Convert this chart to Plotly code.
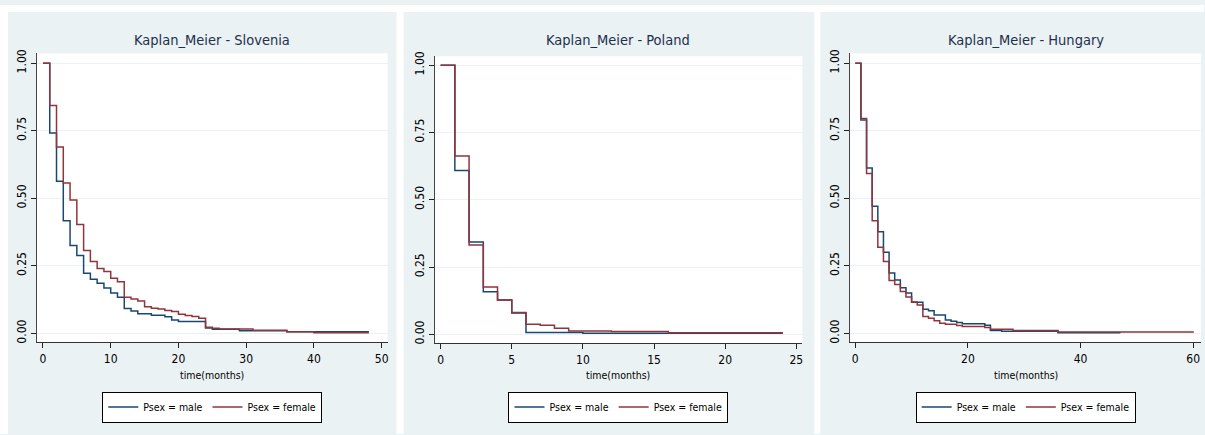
import plotly.graph_objects as go

# ---------------- data ----------------
countries = ["Slovenia", "Poland", "Hungary"]

slo_male_t = [0, 1, 2, 3, 4, 5, 6, 7, 8, 9, 10, 11, 12, 13, 14, 16, 18, 19, 20, 24, 25, 29, 36, 48]
slo_male_s = [1.0, 0.742, 0.563, 0.417, 0.325, 0.288, 0.223, 0.200, 0.186, 0.168, 0.150, 0.134,
              0.092, 0.083, 0.073, 0.067, 0.062, 0.050, 0.044, 0.020, 0.015, 0.010, 0.006, 0.004]
slo_female_t = [0, 1, 2, 3, 4, 5, 6, 7, 8, 9, 10, 11, 12, 13, 14, 15, 16, 17, 18, 19, 20, 21, 22,
                23, 24, 25, 26, 31, 36, 40, 48]
slo_female_s = [1.0, 0.843, 0.690, 0.557, 0.494, 0.403, 0.307, 0.266, 0.240, 0.229, 0.204, 0.191,
                0.134, 0.127, 0.120, 0.099, 0.093, 0.090, 0.085, 0.081, 0.071, 0.066, 0.063,
                0.056, 0.023, 0.019, 0.016, 0.012, 0.006, 0.002, 0.0]

pol_male_t = [0, 1, 2, 3, 4, 5, 6, 10, 24]
pol_male_s = [1.0, 0.609, 0.343, 0.158, 0.128, 0.079, 0.007, 0.004, 0.002]
pol_female_t = [0, 1, 2, 3, 4, 5, 6, 7, 8, 9, 12, 16, 24]
pol_female_s = [1.0, 0.663, 0.332, 0.176, 0.128, 0.081, 0.038, 0.034, 0.023, 0.013, 0.011, 0.006, 0.002]

hun_male_t = [0, 1, 2, 3, 4, 5, 6, 7, 8, 9, 10, 12, 13, 14, 16, 17, 18, 19, 23, 24, 26, 36, 47]
hun_male_s = [1.0, 0.790, 0.612, 0.471, 0.376, 0.300, 0.224, 0.198, 0.169, 0.150, 0.115, 0.089,
              0.084, 0.068, 0.050, 0.045, 0.040, 0.036, 0.030, 0.011, 0.008, 0.002, 0.001]
hun_female_t = [0, 1, 2, 3, 4, 5, 6, 7, 8, 9, 10, 11, 12, 13, 14, 15, 16, 18, 19, 23, 24, 28, 36, 60]
hun_female_s = [1.0, 0.795, 0.592, 0.417, 0.319, 0.266, 0.196, 0.181, 0.155, 0.135, 0.116, 0.105,
                0.063, 0.056, 0.047, 0.038, 0.034, 0.029, 0.026, 0.022, 0.015, 0.011, 0.005, 0.002]

x_ticks = [[0, 10, 20, 30, 40, 50], [0, 5, 10, 15, 20, 25], [0, 20, 40, 60]]
y_ticks = [0, 0.25, 0.5, 0.75, 1.0]
legend_labels = ["Psex = male", "Psex = female"]

series = [
    ((slo_male_t, slo_male_s), (slo_female_t, slo_female_s)),
    ((pol_male_t, pol_male_s), (pol_female_t, pol_female_s)),
    ((hun_male_t, hun_male_s), (hun_female_t, hun_female_s)),
]

# ---------------- layout geometry ----------------
W, H = 1205, 435
FONT = "DejaVu Sans Condensed, Liberation Sans Narrow, sans-serif"
BG = "#eaf2f3"
MALE = "#1a476f"
FEMALE = "#90353b"

# plot areas in pixels: (left, right, top, bottom)
plot_px = [(37, 388, 49, 342), (435, 803, 52, 343), (851, 1202, 49, 342)]
# white gaps around / between the three panels (x0, x1, y0, y1)
gaps_px = [(0, 8, 0, 435), (397, 404, 0, 435), (815, 821, 0, 435), (0, 1205, 0, 7)]
x_ranges = [[-0.885, 50.885], [-0.42, 25.42], [-0.89, 61.4]]
y_ranges = [[-0.0328, 1.0365], [-0.033, 1.033], [-0.0328, 1.0365]]

fig = go.Figure()

def px2x(p):
    return p / W

def px2y(p):
    return 1 - p / H

shapes = []
for (gx0, gx1, gy0, gy1) in gaps_px:
    shapes.append(dict(type="rect", xref="paper", yref="paper", x0=px2x(gx0), x1=px2x(gx1),
                       y0=px2y(gy1), y1=px2y(gy0), fillcolor="white", line=dict(width=0),
                       layer="below"))
annotations = []
for i, (name, (male, female)) in enumerate(zip(countries, series)):
    ax = "" if i == 0 else str(i + 1)
    leg = "legend" if i == 0 else "legend%d" % (i + 1)
    fig.add_trace(go.Scatter(x=male[0], y=male[1], mode="lines", line_shape="hv",
                             line=dict(color=MALE, width=1.5), name=legend_labels[0],
                             xaxis="x" + ax, yaxis="y" + ax, legend=leg))
    fig.add_trace(go.Scatter(x=female[0], y=female[1], mode="lines", line_shape="hv",
                             line=dict(color=FEMALE, width=1.5), name=legend_labels[1],
                             xaxis="x" + ax, yaxis="y" + ax, legend=leg))
    l, r, t, b = plot_px[i]
    cx = (l + r) / 2
    annotations.append(dict(text="Kaplan_Meier - " + name, x=px2x(cx), y=px2y(35), xref="paper",
                            yref="paper", showarrow=False, xanchor="center", yanchor="middle",
                            font=dict(family=FONT, size=14.5, color="#1e2f4f")))
    annotations.append(dict(text="time(months)", x=px2x(cx), y=px2y(375), xref="paper",
                            yref="paper", showarrow=False, xanchor="center", yanchor="middle",
                            font=dict(family=FONT, size=10.5, color="black")))
    xa = dict(domain=[px2x(l), px2x(r)], range=x_ranges[i], anchor="y" + ax,
              tickvals=x_ticks[i], ticks="outside", ticklen=5, tickcolor="#222",
              showline=True, linecolor="#333", linewidth=1.2, showgrid=False, zeroline=False,
              tickfont=dict(family=FONT, size=12, color="black"), fixedrange=True)
    ya = dict(domain=[px2y(b), px2y(t)], range=y_ranges[i], anchor="x" + ax,
              tickvals=y_ticks, tickformat=".2f", ticks="outside", ticklen=5, tickcolor="#222",
              showline=True, linecolor="#444", linewidth=1.2, showgrid=True, gridcolor=BG,
              gridwidth=1.2, zeroline=False, tickangle=-90,
              tickfont=dict(family=FONT, size=12, color="black"), fixedrange=True)
    fig.update_layout(**{"xaxis" + ax: xa, "yaxis" + ax: ya})
    fig.update_layout(**{leg: dict(orientation="h", x=px2x(cx), xanchor="center",
                                   y=px2y(392), yanchor="top", bgcolor="white",
                                   bordercolor="black", borderwidth=1,
                                   font=dict(family=FONT, size=10.5, color="black"),
                                   itemwidth=30, tracegroupgap=0)})

fig.update_layout(width=W, height=H, margin=dict(l=0, r=0, t=0, b=0),
                  paper_bgcolor=BG, plot_bgcolor="white",
                  shapes=shapes, annotations=annotations, showlegend=True)

fig.write_html("out.html", config={"displayModeBar": False},
               post_script="document.body.style.margin='0';document.body.style.overflow='hidden';")
